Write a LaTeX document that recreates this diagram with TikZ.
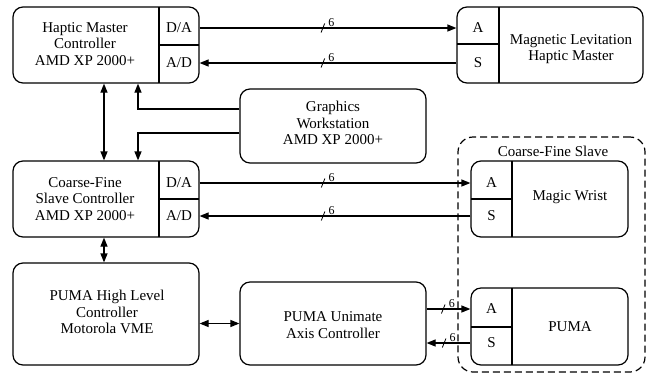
\documentclass[tikz,border=0pt]{standalone}
\usepackage{fontspec}
\setmainfont{Liberation Serif}
\usepackage{tikz}
\usetikzlibrary{arrows.meta}

\tikzset{
  box/.style={draw,rounded corners=10pt,inner sep=0pt},
  txt/.style={align=center,inner sep=0pt},
  port/.style={inner sep=0pt,minimum width=40pt,minimum height=14pt},
  bus/.pic={\draw[-,line width=0.8pt] (-1.8,4.5) -- (1.8,-4.5);
            \node[anchor=south west,inner sep=0pt,font=\fontsize{12}{12}\selectfont] at (5,-1) {6};}
}

\begin{document}
\begin{tikzpicture}[x=1pt,y=-1pt,line width=1.2pt,>={Triangle[length=9pt,width=7pt]},
    font=\fontsize{15}{16.5}\selectfont]
  \useasboundingbox (0,0) rectangle (647,373);

  % haptic master side
  \node[box,minimum width=186pt,minimum height=76pt] (HMC) at (106,45) {};
  \node[txt] (HMCtxt) at (85,44) {Haptic Master\\Controller\\AMD XP 2000+};
  \draw (159,7) -- (159,83) (159,45) -- (199,45);
  \node[port] (HMCda) at (179,28) {D/A};
  \node[port] (HMCad) at (179,63) {A/D};

  \node[box,minimum width=186pt,minimum height=76pt] (ML) at (550,45) {};
  \node[txt] (MLtxt) at (571,49) {Magnetic Levitation\\Haptic Master};
  \draw (499,7) -- (499,83) (457,44) -- (499,44);
  \node[port,minimum width=42pt] (MLa) at (478,28) {A};
  \node[port,minimum width=42pt] (MLs) at (478,63) {S};

  \node[box,minimum width=186pt,minimum height=74pt] (GW) at (333,126) {};
  \node[txt] (GWtxt) at (333,123) {Graphics\\Workstation\\AMD XP 2000+};

  % coarse-fine slave side
  \node[box,minimum width=186pt,minimum height=76pt] (CFC) at (106,199) {};
  \node[txt] (CFCtxt) at (85,199) {Coarse-Fine\\Slave Controller\\AMD XP 2000+};
  \draw (159,161) -- (159,237) (159,199) -- (199,199);
  \node[port] (CFCda) at (179,183) {D/A};
  \node[port] (CFCad) at (179,216) {A/D};

  \node[draw,dash pattern=on 7pt off 4pt,rounded corners=15pt,minimum width=187pt,minimum height=235pt] (CFS) at (551.5,254.5) {};
  \node[txt] (CFSlbl) at (553,151) {Coarse-Fine Slave};

  \node[box,minimum width=157pt,minimum height=76pt] (MW) at (549.5,199) {};
  \node[txt] (MWtxt) at (570,197) {Magic Wrist};
  \draw (512,161) -- (512,237) (471,199) -- (512,199);
  \node[port,minimum width=41pt] (MWa) at (491.5,183) {A};
  \node[port,minimum width=41pt] (MWs) at (491.5,216) {S};

  % puma side
  \node[box,minimum width=186pt,minimum height=102pt] (PHLC) at (106,314) {};
  \node[txt] (PHLCtxt) at (107,312) {PUMA High Level\\Controller\\Motorola VME};

  \node[box,minimum width=186pt,minimum height=83pt] (PUAC) at (333,323.5) {};
  \node[txt] (PUACtxt) at (333,325) {PUMA Unimate\\Axis Controller};

  \node[box,minimum width=157pt,minimum height=77pt] (PUMA) at (549.5,326.5) {};
  \node[txt] (PUMAtxt) at (570,327) {PUMA};
  \draw (512,288) -- (512,365) (471,327) -- (512,327);
  \node[port,minimum width=41pt] (PUMAa) at (491.5,309) {A};
  \node[port,minimum width=41pt] (PUMAs) at (491.5,343) {S};

  % links
  \draw[->] (HMCda) -- (MLa) pic[pos=.48] {bus};
  \draw[->] (MLs) -- (HMCad) pic[pos=.52] {bus};
  \draw[->] (CFCda) -- (MWa) pic[pos=.456] {bus};
  \draw[->] (MWs) -- (CFCad) pic[pos=.544] {bus};
  \draw[->] (PUMAa.west -| PUAC.east) -- (PUMAa) pic[pos=.38] {bus};
  \draw[->] (PUMAs) -- (PUMAs.west -| PUAC.east) pic[pos=.6] {bus};

  \draw[<->] ([xshift=-2pt]HMC.south) -- ([xshift=-2pt]CFC.north);
  \draw[<->] ([xshift=-2pt]CFC.south) -- ([xshift=-2pt]PHLC.north);
  \draw[<->] (PUAC.west -| PHLC.east) -- (PUAC.west);
  \draw[->] ([yshift=17pt]GW.west) -| ([xshift=32pt]HMC.south);
  \draw[->] ([yshift=-7pt]GW.west) -| ([xshift=32pt]CFC.north);
\end{tikzpicture}
\end{document}
